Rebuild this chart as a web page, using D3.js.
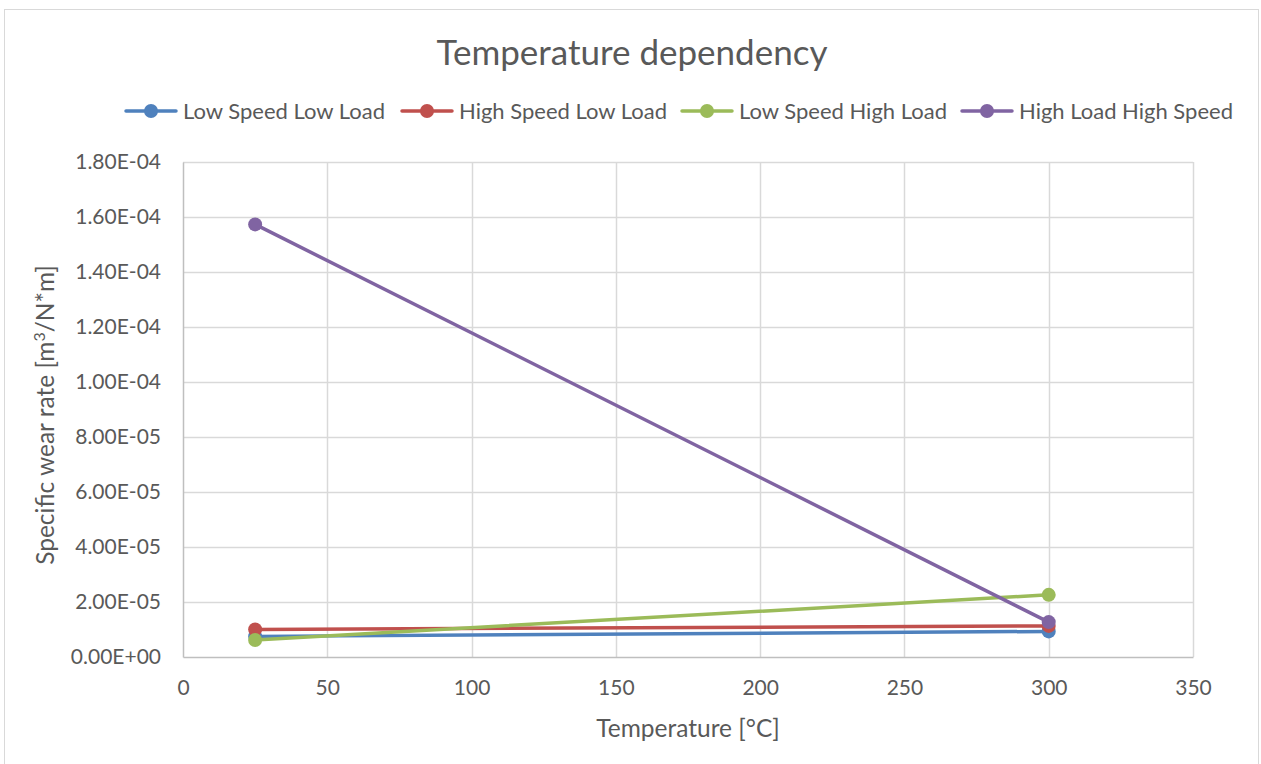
<!DOCTYPE html>
<html>
<head>
<meta charset="utf-8">
<script src="https://cdn.jsdelivr.net/npm/d3@7"></script>
<style>
  html, body { margin: 0; padding: 0; background: #fff; }
  svg text { font-family: Lato, "Open Sans", sans-serif; fill: #595959; }
</style>
</head>
<body>
<svg id="chart" width="1261" height="764"></svg>
<script>
// Temperature points (°C)
const temperatures = [25, 300];

// Series names and colours
const seriesNames = ["Low Speed Low Load", "High Speed Low Load", "Low Speed High Load", "High Load High Speed"];
const seriesColors = ["#4f81bd", "#c0504d", "#9bbb59", "#8064a2"];

// Specific wear rate values [m³/N*m] at 25 °C and 300 °C
const lowSpeedLowLoad = [7.5e-6, 9.3e-6];
const highSpeedLowLoad = [1.0e-5, 1.13e-5];
const lowSpeedHighLoad = [6.2e-6, 2.26e-5];
const highLoadHighSpeed = [1.573e-4, 1.27e-5];

// Axis ticks
const xTicks = [0, 50, 100, 150, 200, 250, 300, 350];
const yTicks = [0, 2e-5, 4e-5, 6e-5, 8e-5, 1e-4, 1.2e-4, 1.4e-4, 1.6e-4, 1.8e-4];

const seriesValues = [lowSpeedLowLoad, highSpeedLowLoad, lowSpeedHighLoad, highLoadHighSpeed];

const svg = d3.select("#chart");
const plot = { left: 183, right: 1193, top: 162, bottom: 657 };

// chart frame
svg.append("rect")
  .attr("x", 4.5).attr("y", 9.5)
  .attr("width", 1254).attr("height", 770)
  .attr("fill", "#fff").attr("stroke", "#d9d9d9").attr("stroke-width", 1);

const x = d3.scaleLinear().domain([0, 350]).range([plot.left, plot.right]);
const y = d3.scaleLinear().domain([0, 1.8e-4]).range([plot.bottom, plot.top]);

// gridlines
const grid = svg.append("g");
grid.selectAll(".hg").data(yTicks.slice(1)).join("line")
  .attr("x1", plot.left).attr("x2", plot.right)
  .attr("y1", d => Math.round(y(d)) + 0.5).attr("y2", d => Math.round(y(d)) + 0.5)
  .attr("stroke", "#d9d9d9").attr("stroke-width", 1.5);
grid.selectAll(".vg").data(xTicks.slice(1)).join("line")
  .attr("x1", d => Math.round(x(d)) + 0.5).attr("x2", d => Math.round(x(d)) + 0.5)
  .attr("y1", plot.top).attr("y2", plot.bottom)
  .attr("stroke", "#d9d9d9").attr("stroke-width", 1.5);

// axes
const xAxis = d3.axisBottom(x).tickValues(xTicks).tickSize(0).tickPadding(23).tickFormat(d3.format("d"));
const yAxis = d3.axisLeft(y).tickValues(yTicks).tickSize(0).tickPadding(22)
  .tickFormat(d => d === 0 ? "0.00E+00" : d.toExponential(2).toUpperCase().replace(/E([+-])(\d)$/, "E$10$2"));

const gx = svg.append("g").attr("transform", `translate(0,${plot.bottom})`).call(xAxis);
const gy = svg.append("g").attr("transform", `translate(${plot.left},0)`).call(yAxis);
[gx, gy].forEach(g => {
  g.select(".domain").attr("stroke", "#bfbfbf").attr("stroke-width", 1.5);
  g.selectAll("text").attr("font-size", 21).style("fill", "#595959").attr("font-family", "Lato");
});

// series lines and markers
const line = d3.line().x((d, i) => x(temperatures[i])).y(d => y(d));
seriesValues.forEach((vals, s) => {
  const g = svg.append("g");
  g.append("path").datum(vals).attr("d", line)
    .attr("fill", "none").attr("stroke", seriesColors[s]).attr("stroke-width", 3.5)
    .attr("stroke-linecap", "round");
  g.selectAll("circle").data(vals).join("circle")
    .attr("cx", (d, i) => x(temperatures[i])).attr("cy", d => y(d))
    .attr("r", 7).attr("fill", seriesColors[s]);
});

// title
svg.append("text").attr("x", 632).attr("y", 53).attr("dy", "0.35em").attr("text-anchor", "middle")
  .attr("font-size", 35).text("Temperature dependency");

// axis titles
svg.append("text").attr("x", 688).attr("y", 728).attr("dy", "0.35em").attr("text-anchor", "middle")
  .attr("font-size", 24.5).text("Temperature [°C]");

const yt = svg.append("text").attr("transform", "translate(45,415) rotate(-90)")
  .attr("dy", "0.35em").attr("text-anchor", "middle").attr("font-size", 24.5);
yt.append("tspan").text("Specific wear rate [m");
yt.append("tspan").attr("baseline-shift", "super").attr("font-size", 16).text("3");
yt.append("tspan").text("/N*m]");

// legend
const legendX = [126, 402, 682, 962];
const lg = svg.append("g");
seriesNames.forEach((name, i) => {
  const g = lg.append("g").attr("transform", `translate(${legendX[i]},111)`);
  g.append("line").attr("x1", 0).attr("x2", 50).attr("y1", 0).attr("y2", 0)
    .attr("stroke", seriesColors[i]).attr("stroke-width", 3.5).attr("stroke-linecap", "round");
  g.append("circle").attr("cx", 25).attr("cy", 0).attr("r", 7).attr("fill", seriesColors[i]);
  g.append("text").attr("x", 57).attr("y", 0).attr("dy", "0.35em")
    .attr("font-size", 22).text(name);
});
</script>
</body>
</html>
